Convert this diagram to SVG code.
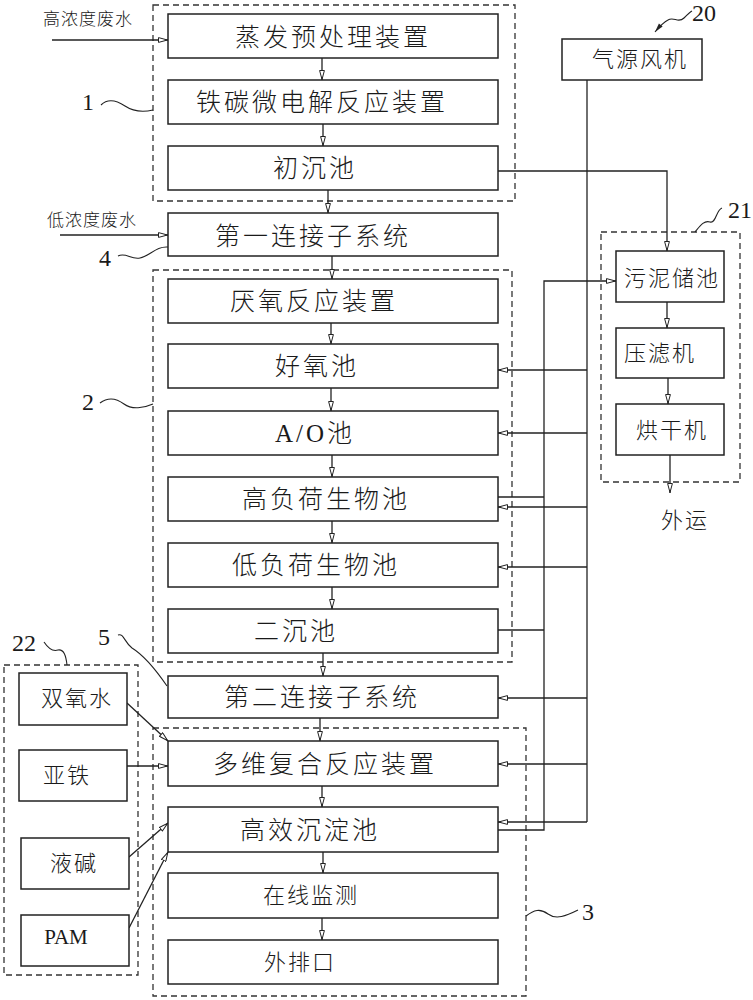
<svg xmlns="http://www.w3.org/2000/svg" width="753" height="1000" viewBox="0 0 753 1000">
<defs>
<style>
.bg{fill:#fff}
.box{fill:#fff;stroke:#222;stroke-width:1.5}
.dash{fill:none;stroke:#333;stroke-width:1.3;stroke-dasharray:6 4}
.c{fill:none;stroke:#222;stroke-width:1.3}
.ld{fill:none;stroke:#222;stroke-width:1.1}
.t{font-family:"Liberation Serif","Noto Sans CJK SC",serif;font-size:25px;font-weight:300;fill:#1a1a1a;text-anchor:middle;dominant-baseline:central;letter-spacing:3px}
.ts{font-family:"Liberation Serif","Noto Sans CJK SC",serif;font-size:22px;font-weight:300;fill:#1a1a1a;text-anchor:middle;dominant-baseline:central;letter-spacing:2px}
.in{font-family:"Liberation Serif","Noto Sans CJK SC",serif;font-size:17px;font-weight:300;fill:#1a1a1a;text-anchor:middle;dominant-baseline:central;letter-spacing:1px}
.n{font-family:"Liberation Serif",serif;font-size:24px;fill:#1a1a1a;text-anchor:middle;dominant-baseline:central}
</style>
<marker id="a" viewBox="0 0 10 6" refX="10" refY="3" markerWidth="10" markerHeight="6" markerUnits="userSpaceOnUse" orient="auto">
<path d="M0.5,0.6 L9.5,3 L0.5,5.4 Z" fill="#fff" stroke="#222" stroke-width="1"/>
</marker>
<marker id="s" viewBox="0 0 10 6" refX="0" refY="3" markerWidth="10" markerHeight="6" markerUnits="userSpaceOnUse" orient="auto">
<path d="M0,3 L9,0.6 L9,5.4 Z" fill="#222"/>
</marker>
</defs>
<rect class="bg" x="0" y="0" width="753" height="1000"/>

<g id="groups">
<rect id="group1" class="dash" x="153" y="5" width="362" height="196"/>
<rect id="group2" class="dash" x="153" y="270" width="359" height="392"/>
<rect id="group3" class="dash" x="153" y="728" width="373" height="268"/>
<rect id="group21" class="dash" x="601" y="232" width="139" height="250"/>
<rect id="group22" class="dash" x="4" y="665" width="134" height="310"/>
</g>

<g id="connectors">
<path class="c" marker-end="url(#a)" d="M322,58 V80"/>
<path class="c" marker-end="url(#a)" d="M323,124 V146"/>
<path class="c" marker-end="url(#a)" d="M328,190 V213"/>
<path class="c" marker-end="url(#a)" d="M332,256 V279"/>
<path class="c" marker-end="url(#a)" d="M331,323 V344"/>
<path class="c" marker-end="url(#a)" d="M331,388 V411"/>
<path class="c" marker-end="url(#a)" d="M332,455 V477"/>
<path class="c" marker-end="url(#a)" d="M332,521 V543"/>
<path class="c" marker-end="url(#a)" d="M332,587 V609"/>
<path class="c" marker-end="url(#a)" d="M323,653 V676"/>
<path class="c" marker-end="url(#a)" d="M320,718 V741"/>
<path class="c" marker-end="url(#a)" d="M322,786 V807"/>
<path class="c" marker-end="url(#a)" d="M323,852 V873"/>
<path class="c" marker-end="url(#a)" d="M322,918 V940"/>
<path class="c" marker-end="url(#a)" d="M52,40 H168"/>
<path class="c" marker-end="url(#a)" d="M60,235 H168"/>
<path class="c" d="M587,80 V822"/>
<path class="c" marker-end="url(#a)" d="M587,370 H498"/>
<path class="c" marker-end="url(#a)" d="M587,433 H498"/>
<path class="c" marker-end="url(#a)" d="M587,507 H498"/>
<path class="c" marker-end="url(#a)" d="M587,567 H498"/>
<path class="c" marker-end="url(#a)" d="M587,698 H498"/>
<path class="c" marker-end="url(#a)" d="M587,764 H498"/>
<path class="c" marker-end="url(#a)" d="M587,822 H498"/>
<path class="c" marker-end="url(#a)" d="M498,171 H667 V251"/>
<path class="c" marker-end="url(#a)" d="M498,830 H544 V281 H616"/>
<path class="c" d="M498,497 H544"/>
<path class="c" d="M498,630 H544"/>
<path class="c" marker-end="url(#a)" d="M667,302 V328"/>
<path class="c" marker-end="url(#a)" d="M668,378 V404"/>
<path class="c" marker-end="url(#a)" d="M670,455 V493"/>
<path class="c" marker-end="url(#a)" d="M127,703 L168,741"/>
<path class="c" marker-end="url(#a)" d="M127,766 H168"/>
<path class="c" marker-end="url(#a)" d="M129,857 L168,823"/>
<path class="c" marker-end="url(#a)" d="M129,928 L168,852"/>
</g>

<g id="leaders">
<path class="ld" d="M101,105 C108,98 116,100 125,106 C134,112 144,112 153,110"/>
<path class="ld" d="M100,403 C108,397 116,398 124,404 C132,410 144,408 153,404"/>
<path class="ld" d="M118,256 C126,252 131,260 140,258 C150,256 156,246 168,247"/>
<path class="ld" d="M118,635 C124,633 124,642 132,648 C145,656 156,670 167,686"/>
<path class="ld" d="M44,642 C48,648 52,652 58,650 C64,649 66,656 67,665"/>
<path class="ld" d="M526,916 C534,910 540,908 548,914 C556,920 566,916 578,910"/>
<path class="ld" d="M695,232 C700,226 704,220 710,222 C716,224 716,210 722,208"/>
<path class="ld" marker-start="url(#s)" d="M655,32 C660,26 664,22 668,20 C674,16 678,24 684,18 C688,14 690,12 692,11"/>
<text class="n" x="88" y="102">1</text>
<text class="n" x="88" y="402">2</text>
<text class="n" x="105" y="258">4</text>
<text class="n" x="104" y="637">5</text>
<text class="n" x="24" y="643">22</text>
<text class="n" x="588" y="912">3</text>
<text class="n" x="740" y="210">21</text>
<text class="n" x="704" y="13">20</text>
</g>

<g id="inputs">
<text class="in" x="88" y="19">高浓度废水</text>
<text class="in" x="92" y="220">低浓度废水</text>
</g>

<g id="n-evap"><rect class="box" x="168" y="14" width="330" height="44"/><text class="t" x="333" y="37">蒸发预处理装置</text></g>
<g id="n-fec"><rect class="box" x="168" y="80" width="330" height="44"/><text class="t" x="322" y="102">铁碳微电解反应装置</text></g>
<g id="n-primary"><rect class="box" x="168" y="146" width="330" height="44"/><text class="t" x="315" y="168">初沉池</text></g>
<g id="n-conn1"><rect class="box" x="168" y="213" width="330" height="43"/><text class="t" x="313" y="236">第一连接子系统</text></g>
<g id="n-anaer"><rect class="box" x="168" y="279" width="330" height="44"/><text class="t" x="314" y="301">厌氧反应装置</text></g>
<g id="n-aer"><rect class="box" x="168" y="344" width="330" height="44"/><text class="t" x="317" y="366">好氧池</text></g>
<g id="n-ao"><rect class="box" x="168" y="411" width="330" height="44"/><text class="t" x="315" y="433">A/O池</text></g>
<g id="n-high"><rect class="box" x="168" y="477" width="330" height="44"/><text class="t" x="326" y="499">高负荷生物池</text></g>
<g id="n-low"><rect class="box" x="168" y="543" width="330" height="44"/><text class="t" x="316" y="565">低负荷生物池</text></g>
<g id="n-sec"><rect class="box" x="168" y="609" width="330" height="44"/><text class="t" x="296" y="631">二沉池</text></g>
<g id="n-conn2"><rect class="box" x="168" y="676" width="330" height="42"/><text class="t" x="322" y="697">第二连接子系统</text></g>
<g id="n-multi"><rect class="box" x="168" y="741" width="330" height="45"/><text class="t" x="325" y="764">多维复合反应装置</text></g>
<g id="n-hieff"><rect class="box" x="168" y="807" width="330" height="45"/><text class="t" x="310" y="830">高效沉淀池</text></g>
<g id="n-online"><rect class="box" x="168" y="873" width="330" height="45"/><text class="ts" x="311" y="895">在线监测</text></g>
<g id="n-outlet"><rect class="box" x="168" y="940" width="330" height="44"/><text class="ts" x="300" y="962">外排口</text></g>

<g id="n-blower"><rect class="box" x="562" y="39" width="140" height="41"/><text class="ts" x="640" y="59">气源风机</text></g>
<g id="n-sludge"><rect class="box" x="616" y="251" width="108" height="51"/><text class="ts" x="672" y="278">污泥储池</text></g>
<g id="n-press"><rect class="box" x="616" y="328" width="108" height="50"/><text class="ts" x="660" y="353">压滤机</text></g>
<g id="n-dryer"><rect class="box" x="616" y="404" width="108" height="51"/><text class="ts" x="672" y="430">烘干机</text></g>
<g id="n-out"><text class="ts" x="685" y="520">外运</text></g>

<g id="n-h2o2"><rect class="box" x="19" y="673" width="108" height="52"/><text class="ts" x="77" y="698">双氧水</text></g>
<g id="n-fe"><rect class="box" x="19" y="750" width="108" height="51"/><text class="ts" x="67" y="775">亚铁</text></g>
<g id="n-naoh"><rect class="box" x="21" y="838" width="108" height="51"/><text class="ts" x="74" y="863">液碱</text></g>
<g id="n-pam"><rect class="box" x="21" y="915" width="108" height="51"/><text class="n" style="font-size:21px" x="66" y="937">PAM</text></g>
</svg>
